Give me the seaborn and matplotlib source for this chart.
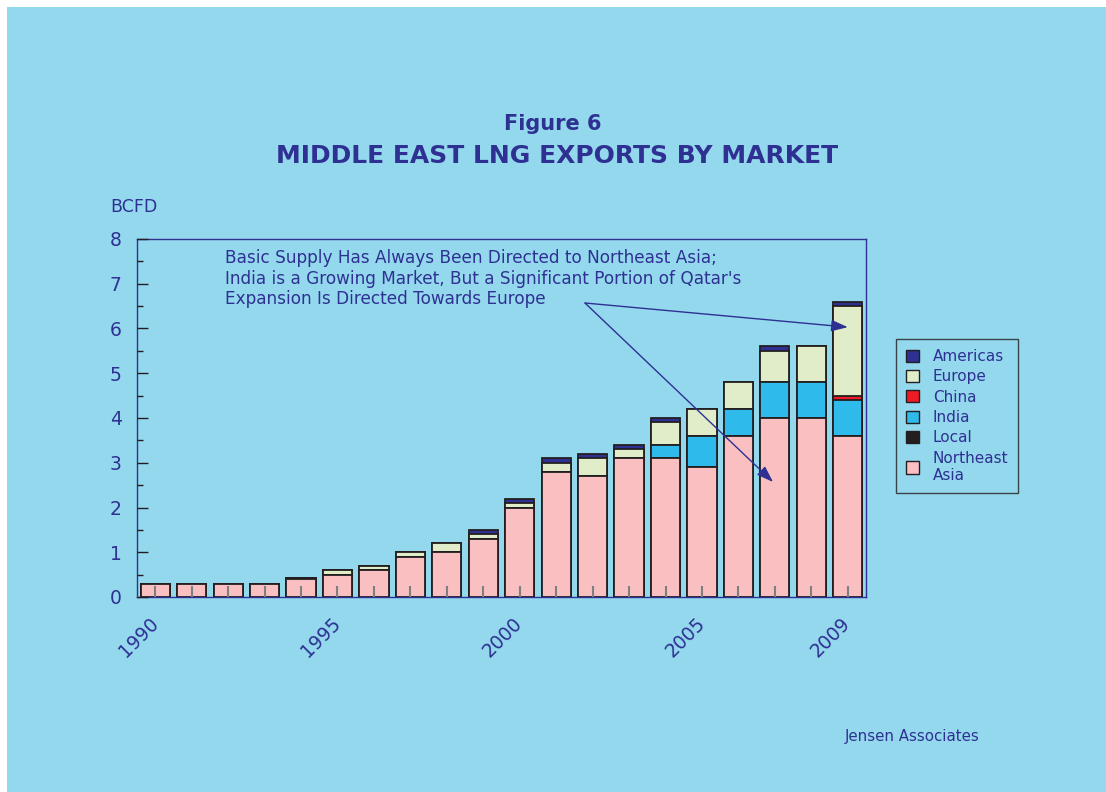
import matplotlib
matplotlib.use("Agg")
import matplotlib.pyplot as plt
from matplotlib.patches import Patch, Rectangle
import numpy as np
import pandas as pd
import seaborn as sns

# ---- data (BCFD) ----
years = [str(y) for y in range(1990, 2010)]
northeast_asia = [0.3, 0.3, 0.3, 0.3, 0.4, 0.5, 0.6, 0.9, 1.0, 1.3,
                  2.0, 2.8, 2.7, 3.1, 3.1, 2.9, 3.6, 4.0, 4.0, 3.6]
local = [0, 0, 0, 0, 0.03, 0, 0, 0, 0, 0,
         0, 0, 0, 0, 0, 0, 0, 0, 0, 0]
india = [0, 0, 0, 0, 0, 0, 0, 0, 0, 0,
         0, 0, 0, 0, 0.3, 0.7, 0.6, 0.8, 0.8, 0.8]
china = [0, 0, 0, 0, 0, 0, 0, 0, 0, 0,
         0, 0, 0, 0, 0, 0, 0, 0, 0, 0.1]
europe = [0, 0, 0, 0, 0, 0.1, 0.1, 0.1, 0.2, 0.1,
          0.1, 0.2, 0.4, 0.2, 0.5, 0.6, 0.6, 0.7, 0.8, 2.0]
americas = [0, 0, 0, 0, 0, 0, 0, 0, 0, 0.1,
            0.1, 0.1, 0.1, 0.1, 0.1, 0, 0, 0.1, 0, 0.1]
labeled_years = ["1990", "1995", "2000", "2005", "2009"]

series_names = ["Northeast\nAsia", "Local", "India", "China", "Europe", "Americas"]
series_values = [northeast_asia, local, india, china, europe, americas]
series_colors = ["#F9BFC1", "#231F20", "#2EBBEB", "#ED1C24", "#E1EDC9", "#2E3192"]

navy = "#2E3192"
edge = "#231F20"
bg = "#94D8EE"

sns.set_theme(style="ticks")
plt.rcParams["font.family"] = ["DejaVu Sans"]

W, H = 1106, 792
fig = plt.figure(figsize=(W / 100, H / 100), dpi=100)
fig.patch.set_facecolor("white")
fig.add_artist(Rectangle((7 / W, 0), 1, 1 - 7 / H, transform=fig.transFigure,
                         facecolor=bg, edgecolor="none", zorder=-10))

ax = fig.add_axes([137 / W, 1 - 597 / H, (866 - 137) / W, (597 - 239) / H])
ax.set_facecolor("none")

# stacked bars: draw cumulative totals from the top layer down
cum = np.cumsum(np.array(series_values, dtype=float), axis=0)
df = pd.DataFrame({"year": years})
for i in range(len(series_names) - 1, -1, -1):
    df["total"] = cum[i]
    sns.barplot(data=df, x="year", y="total", order=years, color=series_colors[i],
                saturation=1, edgecolor=edge, linewidth=1.3, width=0.8,
                errorbar=None, ax=ax)

ax.set_xlim(-0.5, len(years) - 0.5)
ax.set_ylim(0, 8)
ax.set_xlabel("")
ax.set_ylabel("")
ax.set_axisbelow(False)

for s in ax.spines.values():
    s.set_visible(True)
    s.set_color(navy)
    s.set_linewidth(1.0)

ax.set_yticks(range(0, 9))
ax.set_yticks(np.arange(0.5, 8, 1.0), minor=True)
ax.tick_params(axis="y", which="major", direction="in", length=8, width=1,
               color=edge, labelsize=13.5, labelcolor=navy, pad=11)
ax.tick_params(axis="y", which="minor", direction="in", length=4, width=1, color=edge)

ax.set_xticks(range(len(years)))
ax.set_xticklabels([y if y in labeled_years else "" for y in years])
ax.tick_params(axis="x", which="major", direction="in", length=8, width=1.5,
               color="#7F7F7F", labelsize=13.5, labelcolor=navy, pad=17)
for lab in ax.get_xticklabels():
    lab.set_rotation(45)
    lab.set_ha("right")
    lab.set_va("center")
    lab.set_rotation_mode("anchor")

# titles and labels
fig.text(553 / W, 1 - 124 / H, "Figure 6", ha="center", va="center",
         fontsize=15, fontweight="bold", color=navy)
fig.text(557 / W, 1 - 156 / H, "MIDDLE EAST LNG EXPORTS BY MARKET", ha="center",
         va="center", fontsize=18, fontweight="bold", color=navy)
fig.text(110 / W, 1 - 207 / H, "BCFD", ha="left", va="center", fontsize=12.5, color=navy)
fig.text(845 / W, 1 - 737 / H, "Jensen Associates", ha="left", va="center",
         fontsize=10.8, color=navy)

note = ("Basic Supply Has Always Been Directed to Northeast Asia;\n"
        "India is a Growing Market, But a Significant Portion of Qatar's\n"
        "Expansion Is Directed Towards Europe")
ax.text(1.92, 7.78, note, ha="left", va="top", fontsize=12.2, color=navy,
        linespacing=1.2)

arrow_kw = dict(arrowstyle="-|>,head_length=1.0,head_width=0.35", color=navy,
                lw=1.0, mutation_scale=10, shrinkA=0, shrinkB=0)
ax.annotate("", xy=(19.0, 6.03), xytext=(11.79, 6.57), arrowprops=arrow_kw)
ax.annotate("", xy=(16.95, 2.57), xytext=(11.79, 6.57), arrowprops=arrow_kw)

# legend, top layer first
handles = [Patch(facecolor=c, edgecolor=edge, linewidth=1.0)
           for c in reversed(series_colors)]
labels = list(reversed(series_names))
leg = fig.legend(handles, labels, loc="upper left",
                 bbox_to_anchor=(896 / W, 1 - 339 / H), frameon=True,
                 fontsize=11, handlelength=0.85, handleheight=0.85,
                 handletextpad=0.9, labelspacing=0.35, borderpad=0.65,
                 borderaxespad=0, fancybox=False)
leg.get_frame().set_edgecolor(edge)
leg.get_frame().set_facecolor("none")
leg.get_frame().set_linewidth(1.0)
for t in leg.get_texts():
    t.set_color(navy)

fig.savefig("out.png", dpi=100)
